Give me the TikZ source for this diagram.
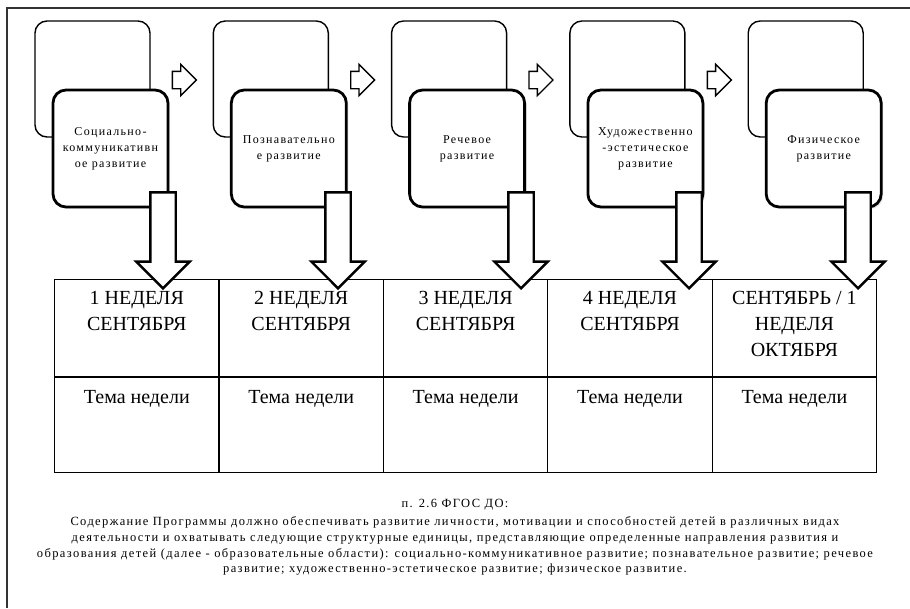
\documentclass[tikz,border=0pt]{standalone}
\usepackage{fontspec}
\setmainfont{Liberation Serif}
\newfontfamily\widserif[LetterSpace=11]{Liberation Serif}
\usetikzlibrary{positioning,shapes.arrows,shadows,calc}

\tikzset{
  backbox/.style={draw, line width=1.4pt, rounded corners=12pt, minimum width=115pt, minimum height=116pt, inner sep=0pt},
  frontbox/.style={draw, line width=2.8pt, fill=white, rounded corners=13pt, minimum width=115pt, minimum height=117pt, inner sep=0pt, align=center,
    font=\widserif\fontsize{12}{16}\selectfont, drop shadow={opacity=0.2, shadow xshift=2pt, shadow yshift=-2pt}},
  nextarrow/.style={single arrow, draw, line width=1.4pt, fill=white, minimum height=24pt, inner xsep=0pt, inner ysep=8pt,
    text height=0pt, text depth=0pt, single arrow head extend=7pt},
  downarrow/.style={single arrow, draw, line width=2.4pt, fill=white, minimum height=96pt, inner xsep=0pt, inner ysep=11.5pt,
    text height=0pt, text depth=0pt, single arrow head extend=14pt, rotate=-90},
  cell/.style={draw, line width=1.2pt, minimum width=164.4pt, inner sep=0pt},
  celltext/.style={align=center, inner sep=0pt, font=\fontsize{20}{26}\selectfont}
}

\begin{document}
\begin{tikzpicture}[x=1pt, y=-1pt]
  \useasboundingbox (0,0) rectangle (910,608);
  \draw[line width=1.2pt, black!80] (7,608) -- (7,8) -- (910,8);

  % weeks table
  \foreach \i/\txt in {1/{1 НЕДЕЛЯ\\СЕНТЯБРЯ}, 2/{2 НЕДЕЛЯ\\СЕНТЯБРЯ}, 3/{3 НЕДЕЛЯ\\СЕНТЯБРЯ},
                       4/{4 НЕДЕЛЯ\\СЕНТЯБРЯ}, 5/{СЕНТЯБРЬ / 1\\НЕДЕЛЯ\\ОКТЯБРЯ}}{
    \node[cell, minimum height=97pt, anchor=north west] (h\i) at ({54+164.4*(\i-1)},279) {};
    \node[cell, minimum height=95pt, anchor=north] (t\i) at (h\i.south) {};
    \node[celltext, below=12pt of h\i.north] (hl\i) {\txt};
    \node[celltext, below=13pt of t\i.north] (tl\i) {Тема недели};
  }

  % development areas
  \foreach \i/\txt in {1/{Социально-\\коммуникативн\\ое развитие}, 2/{Познавательно\\е развитие},
                       3/{Речевое\\развитие}, 4/{Художественно\\-эстетическое\\развитие}, 5/{Физическое\\развитие}}{
    \node[backbox] (b\i) at ({92.5+178.3*(\i-1)},79) {};
    \node[frontbox] (f\i) at ({110.5+178.3*(\i-1)},148.5) {\txt};
  }
  \foreach \i in {1,...,4}{
    \node[nextarrow, anchor=tail] (n\i) at ($(b\i.east)+(21,1)$) {};
  }

  % arrows down to the weeks
  \foreach \x [count=\i] in {163,338,521,689,858}{
    \node[downarrow, anchor=tip] (d\i) at (\x,290) {};
  }

  \node[font=\widserif\fontsize{12.5}{15.7}\selectfont, inner sep=0pt] (fgos) at (455,505) {п. 2.6 ФГОС ДО:};
  \node[below=6pt of fgos, align=center, inner sep=0pt, font=\widserif\fontsize{12.5}{15.7}\selectfont] (fgosbody)
    {Содержание Программы должно обеспечивать развитие личности, мотивации и способностей детей в различных видах\\
     деятельности и охватывать следующие структурные единицы, представляющие определенные направления развития и\\
     образования детей (далее - образовательные области): социально-коммуникативное развитие; познавательное развитие; речевое\\
     развитие; художественно-эстетическое развитие; физическое развитие.};
\end{tikzpicture}
\end{document}
